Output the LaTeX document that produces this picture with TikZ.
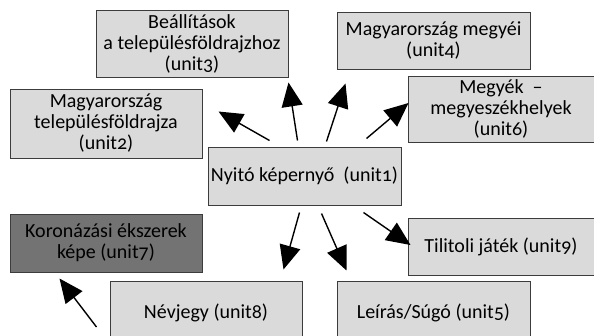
\documentclass[tikz,border=0pt]{standalone}
\usepackage{fontspec}
\setmainfont{Carlito}[Numbers=OldStyle]
\usepackage{tikz}
\usetikzlibrary{positioning,calc,arrows.meta}

\definecolor{boxgray}{RGB}{218,218,218}
\definecolor{darkbox}{RGB}{115,115,115}
\definecolor{edgegray}{RGB}{60,60,60}

\tikzset{
  unitbox/.style={draw=edgegray,line width=1pt,fill=boxgray,align=center,
    inner sep=0pt,font=\fontsize{20}{21}\selectfont},
  arr/.style={-{Triangle[length=24pt,width=21pt]},line width=1.4pt}
}

\begin{document}
\begin{tikzpicture}[x=1pt,y=-1pt]
\useasboundingbox (0,0) rectangle (594,335);
\clip (0,0) rectangle (594,335);

\node[unitbox,minimum width=193,minimum height=58] (n1) at (304.5,176) {Nyitó képernyő~~(unit1)};
\node[unitbox,minimum width=192,minimum height=69] (n2) at (106,123.5) {Magyarország\\településföldrajza\\(unit2)};
\node[unitbox,minimum width=192,minimum height=67] (n3) at (192,43.5) {Beállítások\\a településföldrajzhoz\\(unit3)};
\node[unitbox,minimum width=193,minimum height=57] (n4) at (433.5,40.5) {Magyarország megyéi\\(unit4)};
\node[unitbox,minimum width=193,minimum height=64] (n5) at (433.5,313) {Leírás/Súgó (unit5)};
\node[unitbox,minimum width=186,minimum height=66] (n6) at (501,109) {Megyék~~–\\megyeszékhelyek\\(unit6)};
\node[unitbox,fill=darkbox,minimum width=192,minimum height=58] (n7) at (106,243) {Koronázási ékszerek\\képe (unit7)};
\node[unitbox,minimum width=192,minimum height=64] (n8) at (206,313) {Névjegy (unit8)};
\node[unitbox,minimum width=186,minimum height=57] (n9) at (501,246.5) {Tilitoli játék (unit9)};

% arrows out of the start screen
\draw[arr] ([shift={(62,-6)}]n1.north west) -- ([shift={(16,-47)}]n2.south east);
\draw[arr] ([shift={(90,-6)}]n1.north west) -- ([shift={(0,5)}]n3.south east);
\draw[arr] ([shift={(119,-5)}]n1.north west) -- ([shift={(9,14)}]n4.south west);
\draw[arr] ([shift={(-35,-8)}]n1.north east) -- ([shift={(1,-6)}]n6.west);
\draw[arr] ([shift={(92,7)}]n1.south west) -- ([shift={(-19,-11)}]n8.north east);
\draw[arr] ([shift={(114,8)}]n1.south west) -- ([shift={(10,-10)}]n5.north west);
\draw[arr] ([shift={(-38,7)}]n1.south east) -- ([shift={(3,-1.5)}]n9.west);
\draw[arr] ([shift={(-13,14)}]n8.west) -- ([shift={(50,6)}]n7.south west);
\end{tikzpicture}
\end{document}
